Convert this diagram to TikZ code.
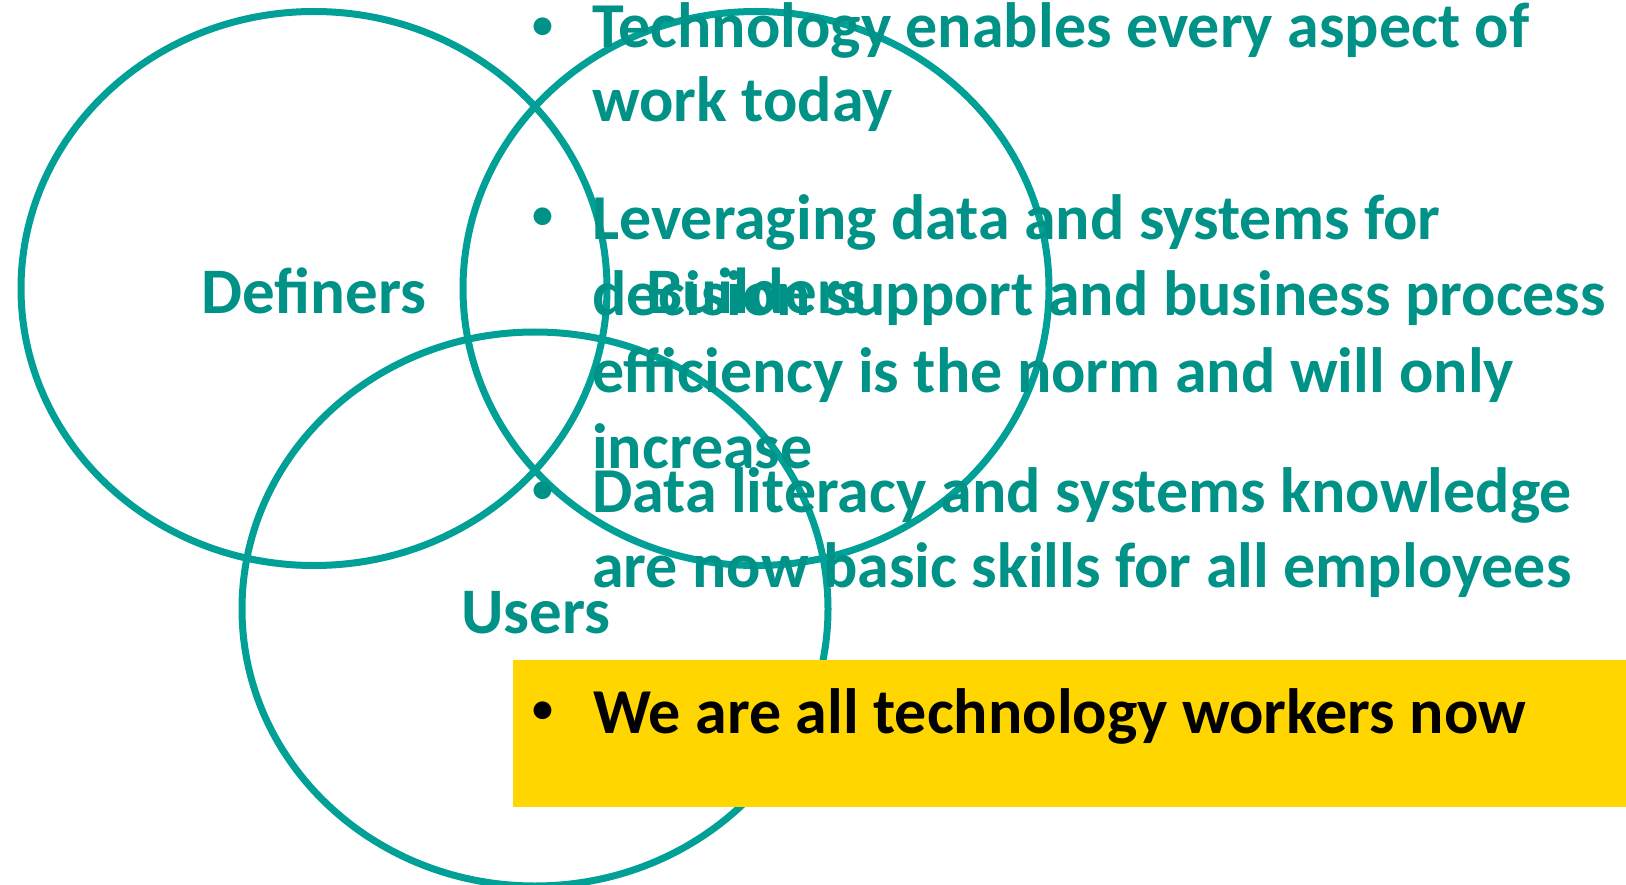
\documentclass[tikz,border=0pt]{standalone}
\usepackage{fontspec}
\setmainfont{Carlito}
\definecolor{tealline}{RGB}{0,160,150}
\definecolor{tealtext}{RGB}{0,146,135}
\definecolor{boxyellow}{RGB}{255,214,0}
\begin{document}
\begin{tikzpicture}[x=1pt,y=-1pt,
  venn/.style={draw=tealline,line width=7pt},
  lbl/.style={text=tealtext,font=\fontsize{65}{78}\selectfont\bfseries,inner sep=0pt,anchor=base},
  btxt/.style={text=tealtext,font=\fontsize{64}{76}\selectfont\bfseries,inner sep=0pt,anchor=base west},
  bdot/.style={text=tealtext,font=\fontsize{42}{50}\selectfont\bfseries,inner sep=0pt,anchor=base},
]
\useasboundingbox (0,0) rectangle (1626,885);
% ellipses
\draw[venn] (314,288.5) ellipse [x radius=293, y radius=277];
\draw[venn] (756,288.5) ellipse [x radius=293, y radius=277];
\draw[venn] (535,609) ellipse [x radius=293, y radius=277];
% labels
\node[lbl] (def) at (314,314) {Definers};
\node[lbl] (bld) at (756,314) {Builders};
\node[lbl] (usr) at (536,633) {Users};
% bullets
\node[bdot] (b1) at (543,39) {•};
\node[btxt] (t1) at (592,48) {Technology enables every aspect of};
\node[btxt] (t2) at (592,122) {work today};
\node[bdot] (b2) at (543,229) {•};
\node[btxt] (l1) at (592,240) {Leveraging data and systems for};
\node[btxt] (l2) at (592,316) {decision support and business process};
\node[btxt] (l3) at (592,392) {efficiency is the norm and will only};
\node[btxt] (l4) at (592,468) {increase};
\node[bdot] (b3) at (543,502) {•};
\node[btxt] (d1) at (592,512) {Data literacy and systems knowledge};
\node[btxt] (d2) at (592,587) {are now basic skills for all employees};
% yellow box
\fill[boxyellow] (513,660) rectangle (1626,807);
\node[bdot,text=black] (b4) at (543,722) {•};
\node[btxt,text=black] (w1) at (593,733) {We are all technology workers now};
\end{tikzpicture}
\end{document}
